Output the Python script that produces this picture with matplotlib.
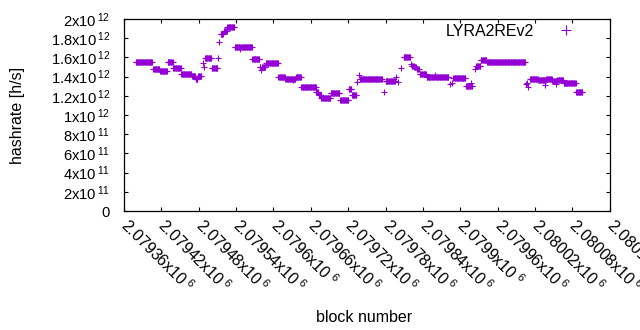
import numpy as np
import matplotlib
matplotlib.use('Agg')
import matplotlib.pyplot as plt

plt.rcParams['font.family'] = ['Liberation Sans', 'DejaVu Sans']
plt.rcParams['mathtext.fontset'] = 'custom'
plt.rcParams['mathtext.rm'] = 'Liberation Sans'
plt.rcParams['mathtext.it'] = 'Liberation Sans'

# hashrate runs: first block, last block, level (x1e11 h/s)
run_start = [2079379, 2079407, 2079418, 2079430, 2079439, 2079452, 2079469, 2079475,
             2079479, 2079487, 2079488, 2079490, 2079501, 2079511, 2079513, 2079515,
             2079520, 2079526, 2079538, 2079547, 2079548, 2079566, 2079578, 2079580,
             2079581, 2079588, 2079608, 2079619, 2079632, 2079633, 2079636, 2079645,
             2079669, 2079673, 2079677, 2079692, 2079707, 2079721, 2079726, 2079734,
             2079737, 2079739, 2079777, 2079780, 2079796, 2079800, 2079805, 2079809,
             2079821, 2079822, 2079826, 2079830, 2079835, 2079846, 2079855, 2079859,
             2079860, 2079884, 2079886, 2079889, 2079909, 2079917, 2079924, 2079926,
             2079933, 2079943, 2080005, 2080007, 2080009, 2080012, 2080025, 2080036,
             2080038, 2080048, 2080053, 2080056, 2080066, 2080086]
run_end = [2079405, 2079417, 2079429, 2079438, 2079451, 2079468, 2079474, 2079478,
           2079484, 2079487, 2079488, 2079500, 2079510, 2079511, 2079513, 2079519,
           2079525, 2079537, 2079546, 2079547, 2079565, 2079577, 2079579, 2079580,
           2079587, 2079607, 2079618, 2079631, 2079632, 2079635, 2079644, 2079668,
           2079672, 2079676, 2079691, 2079706, 2079720, 2079725, 2079733, 2079734,
           2079737, 2079774, 2079777, 2079795, 2079796, 2079800, 2079805, 2079819,
           2079821, 2079825, 2079829, 2079833, 2079845, 2079854, 2079858, 2079859,
           2079881, 2079884, 2079886, 2079908, 2079919, 2079917, 2079924, 2079932,
           2079942, 2080004, 2080005, 2080007, 2080009, 2080024, 2080037, 2080036,
           2080047, 2080055, 2080053, 2080065, 2080085, 2080096]
run_level = [15.5, 14.83, 14.6, 15.49, 14.86, 14.32, 14.06, 13.7,
             14.06, 15.4, 15.0, 15.9, 14.86, 15.9, 17.6, 18.45,
             18.75, 19.2, 17.1, 16.85, 17.1, 15.8, 15.0, 14.7,
             14.95, 15.38, 13.99, 13.8, 13.6, 13.8, 14.0, 12.88,
             12.4, 12.05, 11.74, 12.26, 11.56, 12.7, 12.1, 13.47,
             14.13, 13.8, 12.36, 13.57, 13.95, 13.4, 14.9, 16.07,
             15.3, 15.15, 15.0, 14.8, 14.27, 14.0, 13.99, 14.16,
             13.99, 13.25, 13.3, 13.87, 13.0, 13.3, 14.8, 15.1,
             15.7, 15.5, 13.2, 13.3, 12.95, 13.75, 13.6, 13.1,
             13.8, 13.55, 13.2, 13.66, 13.33, 12.4]

xticks = list(range(2079360, 2080141, 60))
yticks = [0, 2e11, 4e11, 6e11, 8e11, 1e12, 1.2e12, 1.4e12, 1.6e12, 1.8e12, 2e12]

blocks = np.concatenate([np.arange(a, b + 1) for a, b in zip(run_start, run_end)])
hashrate = np.concatenate([np.full(b - a + 1, v * 1e11)
                           for a, b, v in zip(run_start, run_end, run_level)])

FS = 11.5


def sci(v, gap=r'\:'):
    if v == 0:
        return '0'
    e = int(np.floor(np.log10(v) + 1e-9))
    m = '%g' % (v / 10 ** e)
    return m + r'x10$^{' + gap + r'\mathrm{' + str(e) + '}}$'


fig = plt.figure(figsize=(6.4, 3.3), dpi=100)
ax = fig.add_axes([0.19375, 0.3606, 0.759, 0.5818])

ax.plot(blocks, hashrate, linestyle='none', marker='+', color='#9400d3',
        markersize=5.0, markeredgewidth=0.8, label='LYRA2REv2')

ax.set_xlim(2079360, 2080140)
ax.set_ylim(0, 2e12)
ax.set_xticks(xticks)
ax.set_xticklabels([sci(x, r'\ ') for x in xticks], rotation=-45, ha='left',
                   va='center', rotation_mode='anchor')
ax.set_yticks(yticks)
ax.set_yticklabels([sci(y) for y in yticks])
ax.tick_params(direction='in', top=True, right=True, length=3.2, width=0.8,
               labelsize=FS, colors='black')
ax.tick_params(axis='x', pad=8)
ax.tick_params(axis='y', pad=10, labelsize=10.6)
for s in ax.spines.values():
    s.set_linewidth(0.9)

ax.set_ylabel('hashrate [h/s]', fontsize=FS)
ax.yaxis.set_label_coords(-0.204, 0.5)
ax.set_xlabel('block number', fontsize=FS)
ax.xaxis.set_label_coords(0.494, -0.515)

ax.legend(loc='upper right', bbox_to_anchor=(0.952, 1.0), frameon=False,
          markerfirst=False, handlelength=2, handletextpad=0.96, borderpad=0.3,
          borderaxespad=0, fontsize=FS, markerscale=1.3)

fig.savefig('out.png', dpi=100)
